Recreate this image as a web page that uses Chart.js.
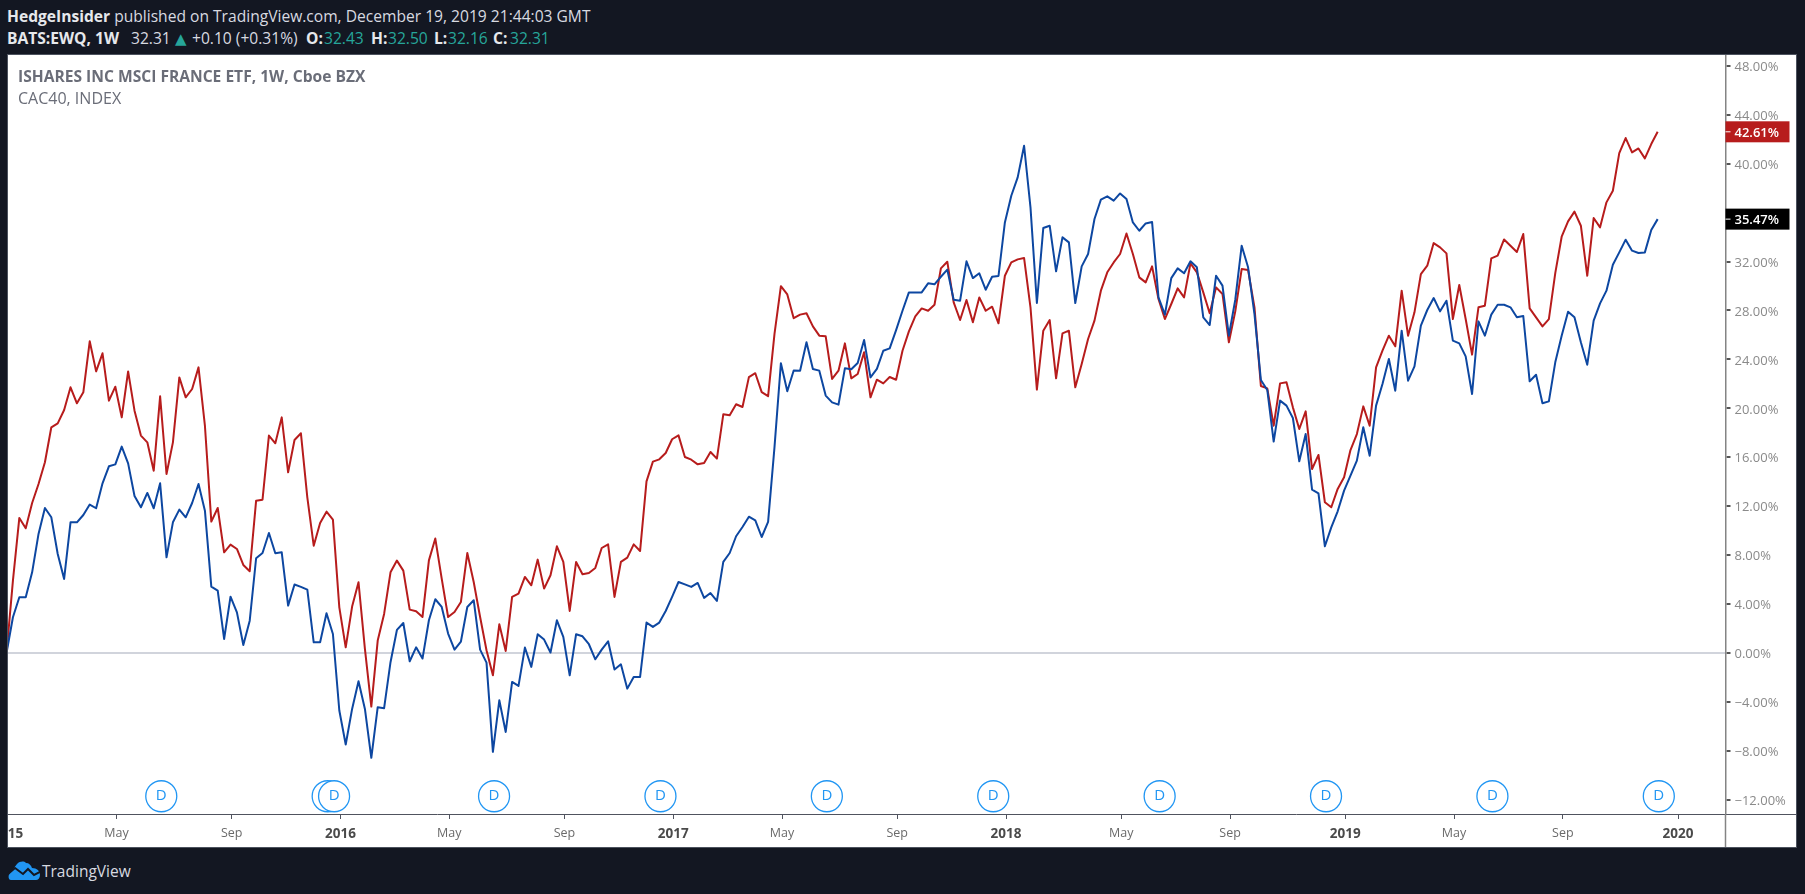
<!DOCTYPE html>
<html>
<head>
<meta charset="utf-8">
<title>EWQ vs CAC40</title>
<script src="https://cdn.jsdelivr.net/npm/chart.js@4"></script>
<style>
html,body{margin:0;padding:0;background:#131722;width:1805px;height:894px;overflow:hidden;font-family:"Open Sans",sans-serif;}
.top{position:absolute;left:7px;color:#d8dae0;font-size:15.6px;white-space:nowrap;line-height:20px;}
.top b{color:#e6e8ec;font-weight:700;}
.top i{font-style:normal;color:#26a69a;}
.top span{position:absolute;top:0;}
.top .tri{font-family:"DejaVu Sans";font-size:15px;}
#panel{position:absolute;left:7px;top:54px;width:1788px;height:792px;border:1px solid #4c525e;background:#fff;}
#chart{position:absolute;left:0;top:0;}
.legend{position:absolute;left:10px;color:#6a6d78;white-space:nowrap;line-height:18px;}
#brand{position:absolute;left:42px;top:860px;color:#d8dae0;font-size:15.5px;line-height:22px;}
#logo{position:absolute;left:8px;top:861px;}
</style>
</head>
<body>
<div class="top" style="top:6px"><b>HedgeInsider</b> published on TradingView.com, December 19, 2019 21:44:03 GMT</div>
<div class="top" style="top:28px;left:0">
<span style="left:7px"><b>BATS:EWQ, 1W</b></span>
<span style="left:131px">32.31</span>
<span style="left:175px"><i class="tri">&#9650;</i></span>
<span style="left:192px">+0.10 (+0.31%)</span>
<span style="left:306px"><b>O:</b></span><span style="left:324px"><i>32.43</i></span>
<span style="left:371px"><b>H:</b></span><span style="left:388px"><i>32.50</i></span>
<span style="left:434px"><b>L:</b></span><span style="left:448px"><i>32.16</i></span>
<span style="left:493px"><b>C:</b></span><span style="left:510px"><i>32.31</i></span>
</div>
<div id="panel">
<canvas id="chart" width="1788" height="792"></canvas>
<div class="legend" style="top:12px;font-weight:700;font-size:15.6px">ISHARES INC MSCI FRANCE ETF, 1W, Cboe BZX</div>
<div class="legend" style="top:34px;font-size:16px">CAC40, INDEX</div>
</div>
<svg id="logo" width="32" height="19" viewBox="0 0 32 19">
<path d="M3 19C0 19 0 14 2 12L9 3C12 0 16 0 18 2C21 2 23 4 24 7C29 7 32 10 32 14C32 17 30 19 28 19Z" fill="#2196f3"/>
<polyline points="0,13 7,7 15,13 20,8 26,14 32,11" fill="none" stroke="#131722" stroke-width="2"/>
</svg>
<div id="brand">TradingView</div>
<script>
// weekly closes as % change since the first bar, one value per week from Jan 2015
const cac40Pct = [
0,5.91,11.04,10.19,12.26,13.81,15.59,18.45,18.77,19.86,21.72,20.41,21.31,25.48,23.02,24.50,20.63,21.77,19.26,23.02,
19.81,17.77,17.22,14.90,20.98,14.63,17.22,22.53,20.90,21.58,23.35,18.58,10.74,11.85,8.23,8.86,8.50,7.19,6.68,12.45,
12.53,17.77,17.14,19.26,14.77,17.41,17.96,12.72,8.77,10.63,11.55,10.90,3.73,0.46,3.79,5.78,0.33,-4.39,1.01,3.19,
6.59,7.55,6.73,3.54,3.41,2.94,7.57,9.35,6.08,2.94,3.35,4.17,8.17,5.80,2.94,0.22,-1.83,2.34,0.16,4.58,
4.85,6.21,5.53,7.63,5.26,6.35,8.72,7.44,3.43,7.44,6.43,6.54,6.95,8.58,8.88,4.58,7.44,7.79,8.88,8.34,
14.03,15.64,15.83,16.35,17.47,17.79,16.02,15.80,15.42,15.53,16.43,15.89,19.51,19.43,20.33,20.11,22.55,22.87,21.32,20.99,
26.09,29.99,29.31,27.37,27.66,27.77,26.70,25.94,25.89,22.40,23.08,25.31,22.45,22.81,24.58,20.90,22.34,22.04,22.56,22.34,
24.71,26.29,27.52,28.17,27.98,28.47,31.44,31.99,28.66,27.22,28.86,27.03,29.07,27.98,28.31,26.95,30.84,31.93,32.18,32.29,
28.26,21.53,26.35,27.22,22.45,26.13,26.35,21.72,23.62,25.67,27.17,29.62,31.12,31.93,32.62,34.30,32.62,30.71,30.30,31.61,
28.94,27.30,28.53,29.81,29.07,31.85,31.12,29.48,27.77,29.89,29.35,25.40,27.93,31.39,31.31,28.26,21.83,21.63,18.58,22.04,
22.13,20.08,18.31,19.75,15.04,16.19,12.32,11.91,13.41,14.36,16.59,17.90,20.16,18.58,23.35,24.71,25.94,25.07,29.62,25.94,
27.85,30.98,31.66,33.51,33.16,32.67,27.30,30.08,27.30,24.39,28.26,28.39,32.26,32.48,33.81,33.30,32.78,34.25,28.17,27.44,
26.70,27.30,31.06,34.03,35.29,36.08,34.93,30.84,35.56,34.80,36.84,37.79,40.87,42.10,40.93,41.25,40.44,41.61,42.61
];
const ewqPct = [
0,2.92,4.55,4.55,6.59,9.73,11.85,11.09,8.09,6.05,10.68,10.68,11.28,12.13,11.83,13.87,15.26,15.42,16.87,15.50,
12.83,11.91,13.08,11.83,13.87,7.82,10.68,11.72,11.09,12.26,13.81,11.63,5.42,5.10,1.14,4.60,3.32,0.65,2.64,7.74,
8.17,9.81,8.15,8.23,3.87,5.59,5.40,5.18,0.87,0.87,3.24,1.55,-4.71,-7.49,-4.58,-2.32,-4.58,-8.58,-4.44,-4.52,
-0.76,1.88,2.45,-0.68,0.46,-0.46,2.67,4.39,3.76,1.58,0.27,0.93,3.76,4.31,0.27,-0.79,-8.09,-3.87,-6.46,-2.37,
-2.70,0.44,-1.14,1.53,1.09,0.03,2.67,1.31,-1.83,1.53,1.36,0.71,-0.52,0.27,0.95,-1.36,-0.93,-2.92,-1.96,-1.96,
2.48,2.13,2.48,3.43,4.58,5.80,5.61,5.40,5.72,4.50,4.90,4.25,7.44,8.17,9.54,10.30,11.14,10.84,9.48,10.71,
16.83,23.69,21.40,23.09,23.08,25.40,23.22,23.08,21.04,20.49,20.30,23.27,23.19,23.71,25.59,22.53,23.22,24.71,24.90,26.40,
27.98,29.48,29.48,29.48,30.22,30.14,30.76,31.34,28.88,28.80,32.02,30.65,31.04,29.70,30.76,30.82,35.20,37.38,38.88,41.47,
36.43,28.61,34.74,34.93,31.20,33.98,33.57,28.61,31.61,32.62,35.48,37.06,37.33,36.98,37.57,37.11,35.20,34.52,35.12,35.23,
29.07,27.66,30.65,31.44,31.04,32.02,31.53,27.44,26.81,30.84,30.03,25.94,28.88,33.30,31.53,27.71,22.32,21.50,17.28,20.63,
20.22,19.21,15.67,17.90,13.35,13.05,8.72,10.27,11.58,13.27,14.50,15.72,18.45,16.13,20.22,21.99,24.03,21.44,26.35,22.26,
23.43,26.76,28.04,29.02,27.93,28.80,25.53,25.31,24.25,21.17,27.11,25.94,27.66,28.47,28.47,28.26,27.44,27.55,22.21,22.75,
20.41,20.57,23.76,25.94,27.90,27.44,25.40,23.57,27.17,28.58,29.62,31.74,32.75,33.79,32.89,32.70,32.75,34.58,35.47
];
const xTickWeeks = [0,17,35,52,69,87,104,121,139,156,174,191,209,226,243,261];
const xTickLabels = ["2015","May","Sep","2016","May","Sep","2017","May","Sep","2018","May","Sep","2019","May","Sep","2020"];
const yTickValues = [48,44,40,36,32,28,24,20,16,12,8,4,0,-4,-8,-12];
const dividendWeeks = [24,50,51,76,102,128,154,180,206,232,258];
const dividendLevel = -11.72;

const tickShift = 0.18;

const pricePlates = {
  id: "pricePlates",
  afterDraw(chart) {
    const c = chart.ctx, y = chart.scales.y, a = chart.chartArea;
    c.save();
    // rest of the axis lines, in the corner below the plot and right of it
    c.strokeStyle = "#50535e";
    c.lineWidth = 1;
    c.beginPath();
    c.moveTo(a.right, a.bottom + 0.5);
    c.lineTo(chart.width, a.bottom + 0.5);
    c.stroke();
    c.strokeStyle = "#848484";
    c.lineWidth = 1.5;
    c.beginPath();
    c.moveTo(a.right, a.bottom);
    c.lineTo(a.right, chart.height);
    c.stroke();

    const plates = [[cac40Pct, "#b71c1c"], [ewqPct, "#000000"]];
    plates.forEach(p => {
      const v = p[0][p[0].length - 1];
      const py = y.getPixelForValue(v);
      c.fillStyle = p[1];
      c.fillRect(a.right, py - 10.5, 64, 21);
      c.strokeStyle = "#ffffff";
      c.lineWidth = 1;
      c.beginPath();
      c.moveTo(a.right, py);
      c.lineTo(a.right + 5, py);
      c.stroke();
      c.fillStyle = "#ffffff";
      c.font = "600 13px 'Open Sans'";
      c.textAlign = "left";
      c.textBaseline = "middle";
      c.fillText(v.toFixed(2) + "%", a.right + 9, py + 1);
    });

    // D letters on the dividend circles
    c.fillStyle = "#2196f3";
    c.font = "15px 'Open Sans'";
    c.textAlign = "center";
    c.textBaseline = "middle";
    chart.getDatasetMeta(2).data.forEach((pt, i) => {
      if (i == 1) return;
      c.fillText("D", pt.x, pt.y - 1);
    });
    c.restore();
  }
};

new Chart(document.getElementById("chart"), {
  type: "line",
  data: {
    datasets: [
      {
        label: "CAC40, INDEX",
        data: cac40Pct.map((v, i) => ({x: i, y: v})),
        borderColor: "#b71c1c",
        borderWidth: 2,
        pointRadius: 0,
        tension: 0,
        borderJoinStyle: "round",
        order: 2
      },
      {
        label: "ISHARES INC MSCI FRANCE ETF",
        data: ewqPct.map((v, i) => ({x: i, y: v})),
        borderColor: "#0d47a1",
        borderWidth: 2,
        pointRadius: 0,
        tension: 0,
        borderJoinStyle: "round",
        order: 1
      },
      {
        label: "Dividends",
        data: dividendWeeks.map(w => ({x: w + tickShift, y: dividendLevel})),
        showLine: false,
        pointRadius: 15.5,
        pointBorderWidth: 1.3,
        pointBorderColor: "#2196f3",
        pointBackgroundColor: "#ffffff",
        clip: false,
        order: 0
      }
    ]
  },
  options: {
    responsive: false,
    animation: false,
    layout: {padding: 0, autoPadding: false},
    plugins: {legend: {display: false}, tooltip: {enabled: false}},
    scales: {
      x: {
        type: "linear",
        min: 0.23,
        max: 268.6,
        afterBuildTicks: s => { s.ticks = xTickWeeks.map(w => ({value: w + tickShift})); },
        afterFit: s => { s.height = 33; s.paddingLeft = 0; s.paddingRight = 0; },
        border: {color: "#50535e", width: 1},
        grid: {drawOnChartArea: false, tickLength: 5, tickColor: "#50535e", color: "#50535e"},
        ticks: {
          autoSkip: false,
          maxRotation: 0,
          padding: 7,
          callback: (v, i) => xTickLabels[i],
          color: ctx => /^\d/.test(xTickLabels[ctx.index]) ? "#4a4a4a" : "#6a6a6a",
          font: ctx => /^\d/.test(xTickLabels[ctx.index])
            ? {family: "Open Sans", size: 13.5, weight: "700"}
            : {family: "Open Sans", size: 12.5}
        }
      },
      y: {
        position: "right",
        min: -13.17,
        max: 48.89,
        afterBuildTicks: s => { s.ticks = yTickValues.map(v => ({value: v})); },
        afterFit: s => { s.width = 70.5; s.paddingTop = 0; s.paddingBottom = 0; },
        border: {color: "#848484", width: 1.5},
        grid: {
          tickLength: 5,
          tickColor: "#555555",
          color: ctx => ctx.tick && ctx.tick.value == 0 ? "#d1d4dc" : "rgba(0,0,0,0)",
          lineWidth: 2
        },
        ticks: {
          autoSkip: false,
          padding: 4,
          labelOffset: 1.5,
          color: "#8a8a8a",
          font: {family: "Open Sans", size: 13},
          callback: v => (v < 0 ? "\u2212" + (-v).toFixed(2) : v.toFixed(2)) + "%"
        }
      }
    }
  },
  plugins: [pricePlates]
});
</script>
</body>
</html>
